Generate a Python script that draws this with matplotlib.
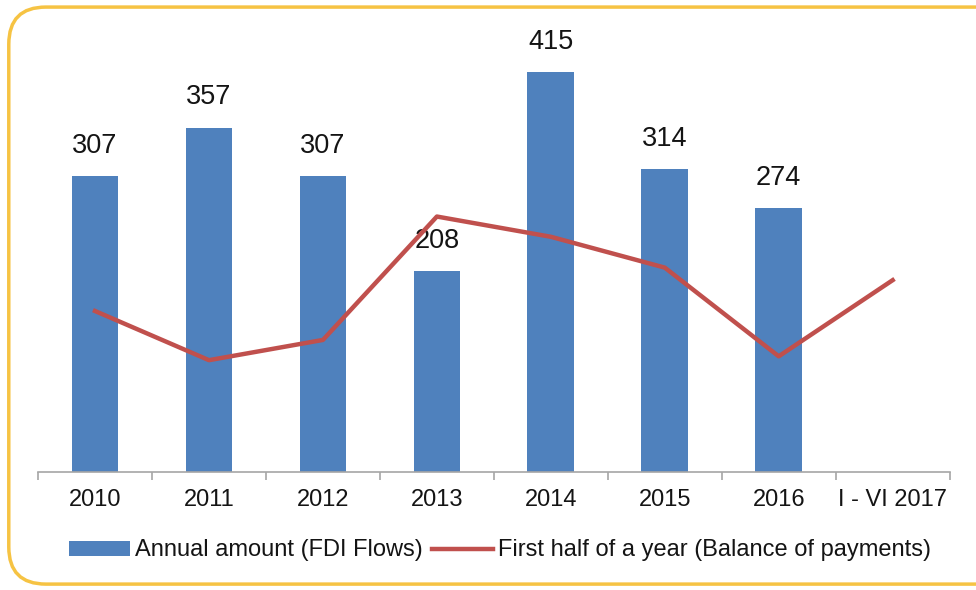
import numpy as np
import matplotlib.pyplot as plt
from matplotlib.patches import FancyBboxPatch

plt.rcParams['font.family'] = ['Liberation Sans', 'DejaVu Sans']

years = ['2010', '2011', '2012', '2013', '2014', '2015', '2016', 'I - VI 2017']
fdi_flows = [307, 357, 307, 208, 415, 314, 274]
half_year = [167, 116, 137, 265, 244, 212, 120, 199]

bar_color = '#4F81BD'
line_color = '#C0504D'
text_color = '#141414'

fig = plt.figure(figsize=(9.76, 5.9), dpi=100)

# rounded gold frame (runs off the right edge like the source)
frame = FancyBboxPatch((0.009, 0.01), 1.05, 0.978, boxstyle='round,pad=0,rounding_size=0.038',
                       transform=fig.transFigure, facecolor='white', edgecolor='#F6C343',
                       linewidth=2.5, mutation_aspect=976 / 590, zorder=-5)
fig.patches.append(frame)

ax = fig.add_axes([0.039, 0.2, 0.934, 0.732])
ax.set_facecolor('none')

x = np.arange(len(years))
bars = ax.bar(x[:len(fdi_flows)], fdi_flows, width=0.41, color=bar_color,
              label='Annual amount (FDI Flows)', zorder=2)
for xi, v in zip(x, fdi_flows):
    ax.text(xi, v + 18, str(v), ha='center', va='bottom', fontsize=19.5, color=text_color)

line, = ax.plot(x, half_year, color=line_color, linewidth=3.2,
                label='First half of a year (Balance of payments)', zorder=3)

ax.set_xlim(-0.5, len(years) - 0.5)
ax.set_ylim(0, 448)
ax.set_yticks([])
for s in ['top', 'right', 'left']:
    ax.spines[s].set_visible(False)
ax.spines['bottom'].set_color('#A6A6A6')
ax.spines['bottom'].set_linewidth(1.2)

ax.set_xticks(np.arange(-0.5, len(years)), minor=False)
ax.set_xticklabels([])
ax.tick_params(axis='x', which='major', length=6, width=1.2, color='#A6A6A6', direction='out')
ax.set_xticks(x, minor=True)
ax.set_xticklabels(years, minor=True, fontsize=17, color=text_color)
ax.tick_params(axis='x', which='minor', length=0, pad=12)

fig.legend(handles=[bars, line], loc='center', bbox_to_anchor=(0.512, 0.067), ncol=2, frameon=False,
           fontsize=17, handlelength=2.6, handleheight=0.6, handletextpad=0.2, columnspacing=0.4,
           labelcolor=text_color)

fig.savefig('out.png', dpi=100)
